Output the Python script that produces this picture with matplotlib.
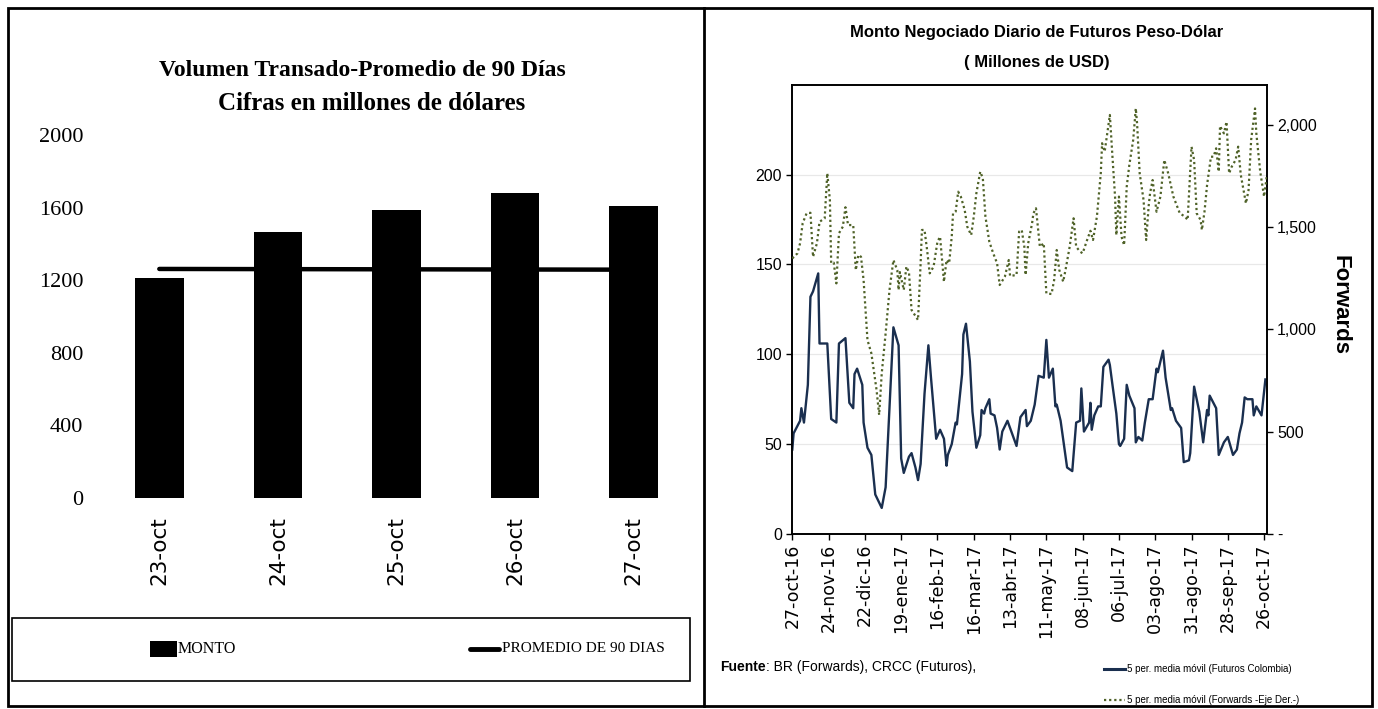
import datetime as dt
import matplotlib
matplotlib.use("Agg")
import matplotlib.pyplot as plt
from matplotlib.patches import Rectangle
from matplotlib.lines import Line2D
from matplotlib.ticker import FuncFormatter

W, H = 1378, 709

# ---- left chart data ----
dias = ["23-oct", "24-oct", "25-oct", "26-oct", "27-oct"]
monto = [1210, 1467, 1587, 1682, 1609]
promedio_90 = [1262, 1261, 1260, 1259, 1258]

# ---- right chart data (day offsets from 27-oct-16) ----
inicio = dt.date(2016, 10, 27)
fut_dias = [0, 1, 6, 7, 9, 12, 14, 16, 20, 21,
            27, 30, 34, 36, 41, 44, 47, 48, 50, 54,
            55, 58, 61, 64, 69, 72, 78, 82, 84, 86,
            90, 92, 95, 97, 99, 102, 105, 107, 109, 111,
            114, 117, 119, 120, 123, 126, 127, 131, 132, 134,
            137, 139, 142, 145, 146, 148, 149, 152, 153, 156,
            158, 160, 162, 166, 168, 173, 176, 180, 181, 184,
            187, 190, 194, 196, 198, 201, 203, 204, 207, 212,
            216, 219, 222, 223, 225, 229, 230, 231, 233, 236,
            238, 240, 244, 245, 247, 250, 252, 253, 256, 258,
            260, 264, 265, 267, 270, 272, 275, 278, 281, 282,
            286, 288, 292, 293, 296, 300, 302, 306, 307, 310,
            314, 317, 320, 321, 322, 327, 329, 333, 336, 340,
            343, 345, 347, 349, 351, 355, 356, 358, 362, 365]
fut_valor = [47, 56, 63, 70, 62, 83, 132, 135, 145, 106,
             106, 64, 62, 106, 109, 73, 70, 89, 92, 83,
             62, 48, 44, 22, 14.5, 26, 115, 105, 42, 34,
             43, 45, 37, 30, 39, 78, 105, 87, 70, 53,
             58, 53, 38, 44, 50, 62, 61, 89, 111, 117,
             96, 68, 48, 55, 69, 67, 70, 75, 67, 66,
             59, 47, 57, 63, 59, 49, 65, 69, 60, 63,
             72, 88, 87, 108, 87, 92, 71, 72, 63, 37,
             35, 62, 63, 81, 57, 62, 73, 58, 66, 71,
             71, 93, 97, 94, 83, 67, 50, 49, 53, 83,
             77, 70, 51, 54, 52, 62, 75, 75, 92, 90,
             102, 87, 69, 70, 63, 59, 40, 41, 45, 82,
             68, 51, 69, 66, 77, 70, 44, 51, 54, 44,
             47, 56, 62, 76, 75, 75, 66, 71, 66, 86]
fwd_dias = [0, 4, 6, 8, 11, 14, 16, 19, 21, 25,
            27, 29, 30, 32, 34, 36, 39, 41, 43, 47,
            49, 51, 53, 55, 58, 61, 65, 67, 69, 72,
            75, 78, 81, 82, 83, 86, 88, 90, 92, 97,
            99, 100, 102, 104, 106, 109, 112, 114, 117, 119,
            121, 123, 124, 126, 128, 130, 133, 135, 138, 140,
            142, 145, 147, 149, 152, 155, 158, 160, 164, 167,
            168, 173, 175, 177, 179, 180, 182, 185, 186, 188,
            191, 194, 196, 200, 202, 204, 206, 209, 211, 214,
            217, 219, 222, 224, 227, 230, 232, 235, 238, 239,
            241, 243, 245, 247, 249, 250, 252, 254, 256, 258,
            260, 263, 265, 266, 268, 271, 273, 275, 276, 278,
            281, 284, 287, 290, 294, 299, 303, 305, 308, 310,
            312, 315, 316, 318, 320, 323, 325, 327, 329, 330,
            333, 335, 337, 339, 342, 344, 346, 350, 352, 354,
            357, 358, 361, 364, 366]
fwd_valor = [1347, 1372, 1421, 1519, 1567, 1570, 1355, 1421, 1526, 1543,
             1763, 1632, 1323, 1326, 1225, 1470, 1502, 1597, 1510, 1510,
             1290, 1364, 1355, 1241, 948, 883, 704, 582, 785, 981,
             1193, 1339, 1290, 1193, 1280, 1193, 1307, 1280, 1095, 1046,
             1323, 1486, 1486, 1388, 1274, 1307, 1429, 1453, 1233, 1339,
             1323, 1453, 1567, 1575, 1673, 1649, 1584, 1502, 1461, 1551,
             1665, 1771, 1738, 1551, 1429, 1372, 1323, 1217, 1258, 1339,
             1261, 1266, 1478, 1486, 1405, 1266, 1421, 1519, 1567, 1592,
             1404, 1421, 1176, 1173, 1241, 1388, 1290, 1233, 1298, 1404,
             1543, 1404, 1380, 1372, 1429, 1482, 1437, 1551, 1763, 1910,
             1869, 1958, 2048, 1844, 1649, 1461, 1649, 1453, 1412, 1697,
             1803, 1926, 2080, 2007, 1763, 1632, 1437, 1608, 1665, 1730,
             1575, 1649, 1828, 1763, 1649, 1567, 1551, 1535, 1893, 1828,
             1567, 1535, 1486, 1575, 1706, 1844, 1844, 1885, 1771, 1994,
             1958, 2015, 1763, 1795, 1828, 1893, 1755, 1616, 1681, 1926,
             2080, 1958, 1771, 1649, 1746]
fecha_labels = ["27-oct-16", "24-nov-16", "22-dic-16", "19-ene-17", "16-feb-17",
                "16-mar-17", "13-abr-17", "11-may-17", "08-jun-17", "06-jul-17",
                "03-ago-17", "31-ago-17", "28-sep-17", "26-oct-17"]

SANS = "Liberation Sans"
SERIF = "Liberation Serif"
NAVY = "#1a2f4f"
OLIVE = "#4f6228"


def fx(x):
    return x / W


def fy(y):
    return 1 - y / H


fig = plt.figure(figsize=(W / 100, H / 100), dpi=100)

# ---------------- left panel ----------------
ax1 = fig.add_axes([fx(100), fy(498), (693 - 100) / W, (498 - 135) / H])
pos = list(range(len(dias)))
ax1.plot(pos, promedio_90, color="black", lw=3.2, solid_capstyle="round", zorder=2)
ax1.bar(pos, monto, width=0.41, color="black", zorder=3)
ax1.set_xlim(-0.5, len(dias) - 0.5)
ax1.set_ylim(0, 2000)
ax1.set_yticks(range(0, 2001, 400))
ax1.set_xticks(pos)
ax1.set_xticklabels(dias, rotation=90, fontsize=15.5, family="DejaVu Sans")
for lab in ax1.get_yticklabels():
    lab.set_family(SERIF)
    lab.set_fontsize(16)
ax1.tick_params(axis="both", length=0)
ax1.tick_params(axis="y", pad=12)
ax1.tick_params(axis="x", pad=13)
for s in ax1.spines.values():
    s.set_visible(False)

fig.text(fx(362), fy(70), "Volumen Transado-Promedio de 90 Días", ha="center", va="center",
         family=SERIF, weight="bold", fontsize=17)
fig.text(fx(372), fy(103), "Cifras en millones de dólares", ha="center", va="center",
         family=SERIF, weight="bold", fontsize=18)

# left legend
fig.add_artist(Rectangle((fx(12), fy(681)), (690 - 12) / W, (681 - 618) / H,
                         transform=fig.transFigure, fill=False, edgecolor="black", lw=1.2))
fig.add_artist(Rectangle((fx(150), fy(657)), 27 / W, 16 / H, transform=fig.transFigure,
                         facecolor="black", edgecolor="none"))
fig.text(fx(178), fy(649), "MONTO", ha="left", va="center", family=SERIF, fontsize=11.5)
fig.add_artist(Line2D([fx(470), fx(499)], [fy(649), fy(649)], transform=fig.transFigure,
                      color="black", lw=3.5, solid_capstyle="round"))
fig.text(fx(502), fy(649), "PROMEDIO DE 90 DIAS", ha="left", va="center", family=SERIF, fontsize=11)

# ---------------- right panel ----------------
ax2 = fig.add_axes([fx(792.3), fy(534), (1266.7 - 792.3) / W, (534 - 84.7) / H])
fut_x = [inicio + dt.timedelta(days=d) for d in fut_dias]
fwd_x = [inicio + dt.timedelta(days=d) for d in fwd_dias]
ax2.plot(fut_x, fut_valor, color=NAVY, lw=1.7, zorder=3)
ax2.set_ylim(0, 250)
ax2.set_yticks(range(0, 201, 50))
ax2.set_xlim(inicio - dt.timedelta(days=0.3), inicio + dt.timedelta(days=366.3))
tick_x = [inicio + dt.timedelta(days=28 * i) for i in range(len(fecha_labels))]
ax2.set_xticks(tick_x)
ax2.set_xticklabels(fecha_labels, rotation=90, family="DejaVu Sans")
ax2.grid(axis="y", color="#e8e8e8", lw=0.9)
ax2.set_axisbelow(True)

ax3 = ax2.twinx()
ax3.plot(fwd_x, fwd_valor, color=OLIVE, lw=1.6, linestyle=(0, (1, 1.3)), zorder=3)
ax3.set_ylim(0, 2196)
ax3.set_yticks(range(0, 2001, 500))
ax3.yaxis.set_major_formatter(FuncFormatter(lambda v, p: "-" if v == 0 else f"{int(v):,}"))

for a in (ax2, ax3):
    a.tick_params(axis="both", direction="out", length=4, width=1, labelsize=11.5)
    for s in a.spines.values():
        s.set_color("black")
        s.set_linewidth(1.2)
for lab in ax2.get_yticklabels() + ax3.get_yticklabels():
    lab.set_family(SANS)
ax2.tick_params(axis="x", labelsize=12.5, pad=3)

fig.text(fx(1340), fy(305), "Forwards", rotation=270, ha="center", va="center",
         family=SANS, weight="bold", fontsize=16)

fig.text(fx(1037), fy(32), "Monto Negociado Diario de Futuros Peso-Dólar", ha="center", va="center",
         family=SANS, weight="bold", fontsize=12)
fig.text(fx(1037), fy(62), "( Millones de USD)", ha="center", va="center",
         family=SANS, weight="bold", fontsize=12)

t1 = fig.text(fx(720), fy(671), "Fuente", ha="left", va="baseline", family=SANS,
              weight="bold", fontsize=10)
ax2.annotate(": BR (Forwards), CRCC (Futuros),", xy=(1, 0), xycoords=t1, ha="left", va="bottom",
             family=SANS, fontsize=10, annotation_clip=False)

fig.add_artist(Line2D([fx(1104), fx(1125)], [fy(669), fy(669)], transform=fig.transFigure,
                      color=NAVY, lw=2.2))
fig.text(fx(1127), fy(669), "5 per. media móvil (Futuros Colombia)", ha="left", va="center",
         family=SANS, fontsize=7)
fig.add_artist(Line2D([fx(1104), fx(1125)], [fy(700), fy(700)], transform=fig.transFigure,
                      color=OLIVE, lw=1.6, linestyle=(0, (1, 1.3))))
fig.text(fx(1127), fy(700), "5 per. media móvil (Forwards -Eje Der.-)", ha="left", va="center",
         family=SANS, fontsize=7)

# frames
fig.add_artist(Rectangle((fx(8), fy(706)), (1372 - 8) / W, (706 - 8) / H, transform=fig.transFigure,
                         fill=False, edgecolor="black", lw=2))
fig.add_artist(Line2D([fx(704), fx(704)], [fy(8), fy(706)], transform=fig.transFigure,
                      color="black", lw=2))

fig.savefig("out.png", dpi=100)
